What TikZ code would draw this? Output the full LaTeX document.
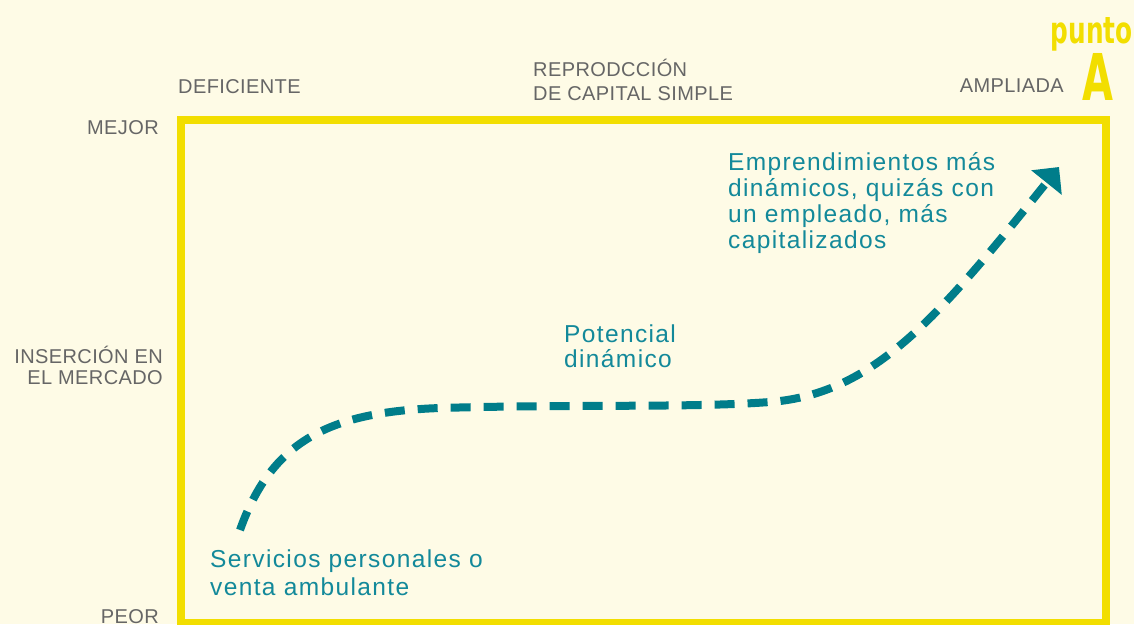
\documentclass[tikz,border=0pt]{standalone}
\usepackage{fontspec}
\setmainfont{Liberation Sans}
\newfontfamily\tealfont[LetterSpace=5.6]{Liberation Sans}
\newfontfamily\grayfont[LetterSpace=2]{Liberation Sans}
\newfontfamily\puntofont{DejaVu Sans}
\usetikzlibrary{arrows.meta}
\definecolor{bg}{HTML}{FEFBE6}
\definecolor{frameyellow}{HTML}{F2DE00}
\definecolor{tealc}{HTML}{007D8A}
\definecolor{tealtext}{HTML}{13899A}
\definecolor{graytext}{HTML}{666666}
\tikzset{
  graylbl/.style={inner sep=0pt, text=graytext, font=\grayfont\fontsize{20}{24}\selectfont},
  teallbl/.style={inner sep=0pt, text=tealtext, font=\tealfont\fontsize{24.5}{28}\selectfont},
  framebox/.style={draw=frameyellow, line width=8pt},
  pathline/.style={draw=tealc, line width=8pt, dash pattern=on 20pt off 13pt,
    -{Triangle[width=38pt,length=20pt]}},
}
\begin{document}
\begin{tikzpicture}[x=1pt,y=-1pt]
\fill[bg] (0,0) rectangle (1134,624);
\useasboundingbox (0,0) rectangle (1134,624);
% frame
\draw[framebox] (181,120) rectangle (1106,623);
% top labels
\node[graylbl, anchor=base west] (def) at (178,93) {DEFICIENTE};
\node[graylbl, anchor=base west] (rep1) at (533,76) {REPRODCCIÓN};
\node[graylbl, anchor=base west] (rep2) at (533,100) {DE CAPITAL SIMPLE};
\node[graylbl, anchor=base east] (amp) at (1064,92.5) {AMPLIADA};
% punto A
\node[inner sep=0pt, text=frameyellow, anchor=base east] (punto) at (1133,43)
  {\scalebox{0.67}[1]{\puntofont\fontsize{37}{37}\selectfont\bfseries punto}};
\node[inner sep=0pt, text=frameyellow, anchor=base] (bigA) at (1097.5,100)
  {\scalebox{0.62}[1]{\puntofont\fontsize{64.5}{64.5}\selectfont\bfseries A}};
% left labels
\node[graylbl, anchor=base east] (mejor) at (159,134) {MEJOR};
\node[graylbl, anchor=base east] (ins1) at (163,363) {INSERCIÓN EN};
\node[graylbl, anchor=base east] (ins2) at (163,384) {EL MERCADO};
\node[graylbl, anchor=base east] (peor) at (159,623) {PEOR};
% teal labels
\node[teallbl, anchor=base west] (e1) at (728,170) {Emprendimientos más};
\node[teallbl, anchor=base west] (e2) at (728,196) {dinámicos, quizás con};
\node[teallbl, anchor=base west] (e3) at (728,222) {un empleado, más};
\node[teallbl, anchor=base west] (e4) at (728,248) {capitalizados};
\node[teallbl, anchor=base west] (p1) at (564,342) {Potencial};
\node[teallbl, anchor=base west] (p2) at (564,367) {dinámico};
\node[teallbl, anchor=base west] (s1) at (210,567) {Servicios personales o};
\node[teallbl, anchor=base west] (s2) at (210,595) {venta ambulante};
% curve
\coordinate (c0) at (240,530);
\coordinate (c1) at (440,408);
\coordinate (c2) at (770,402);
\coordinate (c3) at (1059,167);
\draw[pathline] (c0) .. controls (272,440) and (330,412) .. (c1)
  .. controls (580,404) and (690,408) .. (c2)
  .. controls (875,394) and (940,315) .. (c3);
\end{tikzpicture}
\end{document}
